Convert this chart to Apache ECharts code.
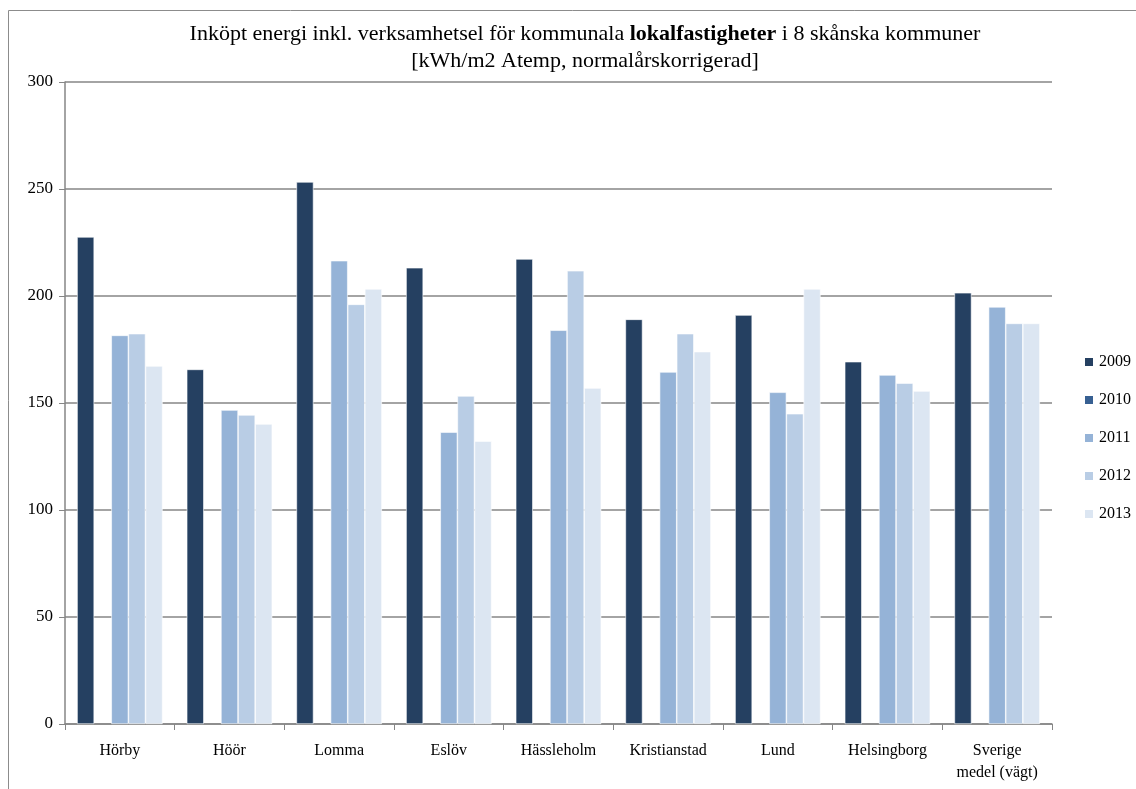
<!DOCTYPE html>
<html>
<head>
<meta charset="utf-8">
<script src="https://cdn.jsdelivr.net/npm/echarts@6/dist/echarts.min.js"></script>
<style>
html,body{margin:0;padding:0;background:#fff;}
#main{width:1136px;height:789px;}
</style>
</head>
<body>
<div id="main"></div>
<script>
// kommuner
var categories = ["Hörby", "Höör", "Lomma", "Eslöv", "Hässleholm", "Kristianstad", "Lund", "Helsingborg", "Sverige\nmedel (vägt)"];
var years = ["2009", "2010", "2011", "2012", "2013"];
var v2009 = [227.6, 165.7, 253.3, 213.2, 217.3, 189.1, 191.1, 169.3, 201.5];
var v2010 = [null, null, null, null, null, null, null, null, null];
var v2011 = [181.6, 146.7, 216.5, 136.4, 184.0, 164.5, 155.0, 163.1, 194.9];
var v2012 = [182.4, 144.4, 196.1, 153.3, 211.8, 182.4, 145.0, 159.3, 187.2];
var v2013 = [167.3, 140.2, 203.3, 132.2, 157.0, 174.0, 203.3, 155.6, 187.2];
var colors = ["#254061", "#376092", "#95B3D7", "#B9CDE5", "#DCE6F2"];

var font = "Liberation Serif";
var chart = echarts.init(document.getElementById("main"));
var allData = [v2009, v2010, v2011, v2012, v2013];
var series = [];
for (let i = 0; i < years.length; i++) {
    series.push({
        name: years[i],
        type: "bar",
        data: allData[i],
        barGap: "0%",
        barCategoryGap: "22%",
        itemStyle: { color: colors[i], borderColor: "#ffffff", borderWidth: 0.6 }
    });
}

chart.setOption({
    animation: false,
    color: colors,
    title: {
        text: "Inköpt energi inkl. verksamhetsel för kommunala {b|lokalfastigheter} i 8 skånska kommuner\n[kWh/m2 Atemp, normalårskorrigerad]",
        left: 580,
        textAlign: "center",
        top: 16,
        textStyle: {
            fontFamily: font,
            fontSize: 22,
            fontWeight: "normal",
            color: "#000",
            lineHeight: 27,
            rich: { b: { fontFamily: font, fontSize: 22, fontWeight: "bold", color: "#000" } }
        }
    },
    legend: {
        orient: "vertical",
        left: 1083,
        top: 354,
        padding: 0,
        itemWidth: 10,
        itemHeight: 10,
        itemGap: 22,
        icon: "rect",
        textStyle: { fontFamily: font, fontSize: 16, color: "#000" },
        data: years
    },
    grid: { left: 65, right: 84, top: 82, bottom: 65 },
    xAxis: {
        type: "category",
        data: categories,
        axisLine: { lineStyle: { color: "#868686", width: 1.5 } },
        axisTick: { show: true, length: 6, lineStyle: { color: "#868686" } },
        axisLabel: { fontFamily: font, fontSize: 16, color: "#000", margin: 16, lineHeight: 22, interval: 0 }
    },
    yAxis: {
        type: "value",
        min: 0,
        max: 300,
        interval: 50,
        axisLine: { show: true, lineStyle: { color: "#868686", width: 1.5 } },
        axisTick: { show: true, length: 6, lineStyle: { color: "#868686" } },
        splitLine: { lineStyle: { color: "#868686", width: 1.5 } },
        axisLabel: { fontFamily: font, fontSize: 17, color: "#000", margin: 12 }
    },
    graphic: [{
        type: "rect",
        shape: { x: 8.5, y: 10.5, width: 1140, height: 800 },
        style: { fill: "none", stroke: "#8c8c8c", lineWidth: 1 },
        silent: true
    }],
    series: series
});
</script>
</body>
</html>
